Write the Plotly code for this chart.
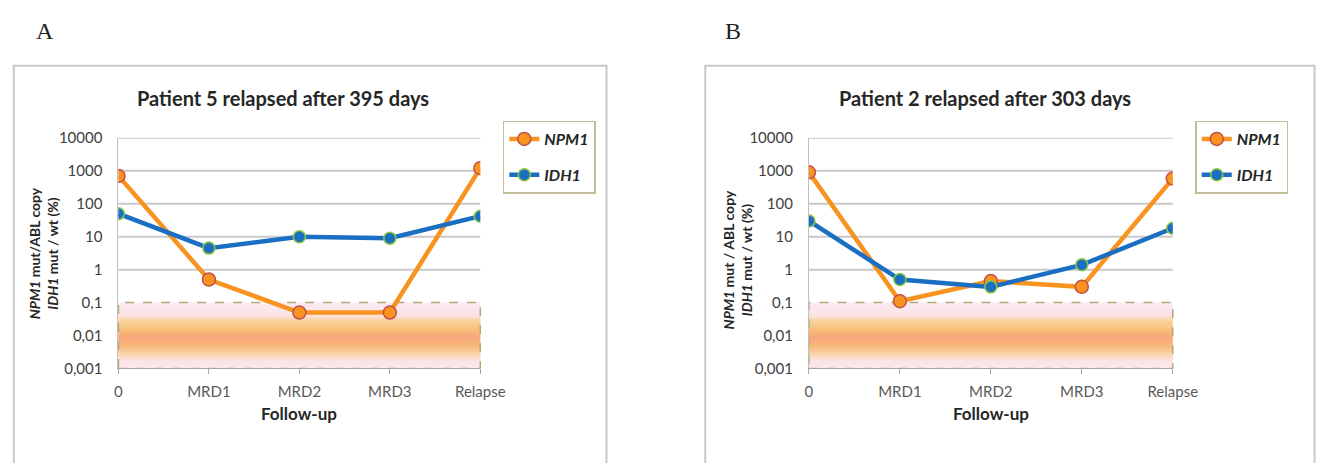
import math
import plotly.graph_objects as go

# ---------------- data ----------------
categories = ["0", "MRD1", "MRD2", "MRD3", "Relapse"]
npm1_A = [700, 0.5, 0.05, 0.05, 1200]
idh1_A = [50, 4.5, 10, 9, 42]
npm1_B = [900, 0.11, 0.45, 0.3, 580]
idh1_B = [30, 0.5, 0.3, 1.4, 18]
ytick_vals = [0.001, 0.01, 0.1, 1, 10, 100, 1000, 10000]
ytick_text = ["0,001", "0,01", "0,1", "1", "10", "100", "1000", "10000"]
title_A = "Patient 5 relapsed after 395 days"
title_B = "Patient 2 relapsed after 303 days"
ytitle_A = "<b><i>NPM1</i> mut/ABL copy</b><br><b><i>IDH1</i> mut / wt (%)</b>"
ytitle_B = "<b><i>NPM1</i> mut / ABL copy</b><br><b><i>IDH1</i> mut / wt (%)</b>"
band_low, band_high = 0.001, 0.1

W, H = 1320, 463
FONT = "Lato"
ORANGE = "#F7931E"
ORANGE_EDGE = "#C0504D"
BLUE = "#1A6FC2"
BLUE_EDGE = "#8DC63F"


def px(x):
    return x / W


def py(y):
    return 1 - y / H


fig = go.Figure()

panels = [
    dict(x="x", y="y", legend="legend", npm=npm1_A, idh=idh1_A),
    dict(x="x2", y="y2", legend="legend2", npm=npm1_B, idh=idh1_B),
]
for p in panels:
    fig.add_trace(go.Scatter(
        x=categories, y=p["npm"], xaxis=p["x"], yaxis=p["y"],
        mode="lines+markers", name="<b><i>NPM1</i></b>", legend=p["legend"],
        legendgroup="npm" + p["x"],
        line=dict(color=ORANGE, width=4.5),
        marker=dict(size=13, color=ORANGE, line=dict(color=ORANGE_EDGE, width=1.5)),
    ))
    fig.add_trace(go.Scatter(
        x=categories, y=p["idh"], xaxis=p["x"], yaxis=p["y"],
        mode="lines+markers", name="<b><i>IDH1</i></b>", legend=p["legend"],
        legendgroup="idh" + p["x"],
        line=dict(color=BLUE, width=4.5),
        marker=dict(size=12, color=BLUE, line=dict(color=BLUE_EDGE, width=1.5)),
    ))

ydom = [py(373), py(133)]
common_x = dict(
    type="category", range=[0, 4], showgrid=False, showline=True,
    linecolor="#a6a6a6", linewidth=1, ticks="outside", ticklen=5,
    tickcolor="#a6a6a6", tickfont=dict(family=FONT, size=15, color="#595959"),
    ticklabelstandoff=5, zeroline=False,
)
common_y = dict(
    type="log", range=[-3, 4], domain=ydom, tickvals=ytick_vals, ticktext=ytick_text,
    showgrid=False, showline=True,
    linecolor="#bfbfbf", linewidth=1, ticks="outside", ticklen=12,
    tickcolor="rgba(0,0,0,0)", tickfont=dict(family=FONT, size=15, color="#404040"),
    zeroline=False,
)
fig.update_layout(
    xaxis=dict(domain=[px(117), px(487)], anchor="y", **common_x),
    yaxis=dict(anchor="x", **common_y),
    xaxis2=dict(domain=[px(823), px(1195)], anchor="y2", **common_x),
    yaxis2=dict(anchor="x2", **common_y),
)

# gradient band (0.001 - 0.1)
stops = [
    (0.00, (252, 232, 238)),
    (0.11, (251, 227, 232)),
    (0.21, (250, 212, 176)),
    (0.33, (248, 187, 122)),
    (0.47, (246, 165, 122)),
    (0.61, (248, 194, 122)),
    (0.73, (249, 211, 160)),
    (0.81, (251, 227, 232)),
    (1.00, (251, 234, 240)),
]


def col_at(f):
    for (f0, c0), (f1, c1) in zip(stops[:-1], stops[1:]):
        if f0 <= f <= f1:
            t = (f - f0) / (f1 - f0) if f1 > f0 else 0
            return "rgb(%d,%d,%d)" % tuple(round(a + (b - a) * t) for a, b in zip(c0, c1))
    return "rgb(%d,%d,%d)" % stops[-1][1]


lo, hi = math.log10(band_low), math.log10(band_high)
N = 60
shapes = []
for xr, yr in (("x", "y"), ("x2", "y2")):
    # gridlines above the band
    for v in ytick_vals:
        if v > band_high:
            shapes.append(dict(type="line", xref=xr + " domain", yref=yr, x0=0, x1=1,
                               y0=v, y1=v, line=dict(color="#c9c9c9", width=2),
                               layer="below"))
    for i in range(N):
        f0, f1 = i / N, (i + 1) / N
        top = min(hi, lo + (hi - lo) * f1 + 0.02)
        shapes.append(dict(
            type="rect", xref=xr + " domain", yref=yr,
            x0=0, x1=1, y0=10 ** (lo + (hi - lo) * f0), y1=10 ** top,
            fillcolor=col_at((f0 + f1) / 2), line=dict(width=0), layer="below",
        ))
    shapes.append(dict(
        type="rect", xref=xr + " domain", yref=yr, x0=0, x1=1, y0=band_low, y1=band_high,
        fillcolor="rgba(0,0,0,0)", line=dict(color="#b3a77c", width=1.5, dash="dash"),
        layer="below",
    ))

# panel borders
shapes.append(dict(type="rect", xref="paper", yref="paper", x0=px(10), x1=px(616),
                   y0=-0.2, y1=py(58), line=dict(color="#c8c8c8", width=2), layer="below"))
shapes.append(dict(type="rect", xref="paper", yref="paper", x0=px(717), x1=px(1340),
                   y0=-0.2, y1=py(58), line=dict(color="#c8c8c8", width=2), layer="below"))

annotations = []
for xc, title, ytitle, ytx, yty, lbl, lblx, fx in (
    (285, title_A, ytitle_A, 40, 253, "A", 42, 302),
    (1003, title_B, ytitle_B, 750, 260, "B", 745, 1009),
):
    annotations.append(dict(text="<b>" + title + "</b>", x=px(xc), y=py(92), xref="paper",
                            yref="paper", showarrow=False, xanchor="center", yanchor="middle",
                            font=dict(family=FONT, size=20, color="#262626")))
    annotations.append(dict(text=ytitle, x=px(ytx), y=py(yty), xref="paper", yref="paper",
                            showarrow=False, textangle=-90, xanchor="center", yanchor="middle",
                            font=dict(family=FONT, size=14, color="#262626")))
    annotations.append(dict(text="<b>Follow-up</b>", x=px(fx), y=py(420), xref="paper",
                            yref="paper", showarrow=False, xanchor="center", yanchor="middle",
                            font=dict(family=FONT, size=17, color="#262626")))
    annotations.append(dict(text=lbl, x=px(lblx), y=py(22), xref="paper", yref="paper",
                            showarrow=False, xanchor="center", yanchor="middle",
                            font=dict(family="Liberation Serif", size=24, color="#222222")))

leg = dict(
    bgcolor="white", bordercolor="#c4bd97", borderwidth=1.5,
    font=dict(family=FONT, size=16, color="#262626"), tracegroupgap=12,
    xanchor="left", yanchor="top", itemwidth=30,
)
fig.update_layout(
    autosize=True, margin=dict(l=0, r=0, t=0, b=0),
    paper_bgcolor="white", plot_bgcolor="rgba(0,0,0,0)",
    shapes=shapes, annotations=annotations,
    legend=dict(x=px(510), y=py(115), **leg),
    legend2=dict(x=px(1218), y=py(115), **leg),
    showlegend=True,
)
fig.write_html(
    "out.html",
    default_width="100vw",
    default_height="100vh",
    config={"displayModeBar": False, "responsive": True},
    post_script=(
        "document.documentElement.style.margin='0';"
        "document.body.style.margin='0';document.body.style.overflow='hidden';"
        "Plotly.Plots.resize(document.getElementById('{plot_id}'));"
    ),
)
